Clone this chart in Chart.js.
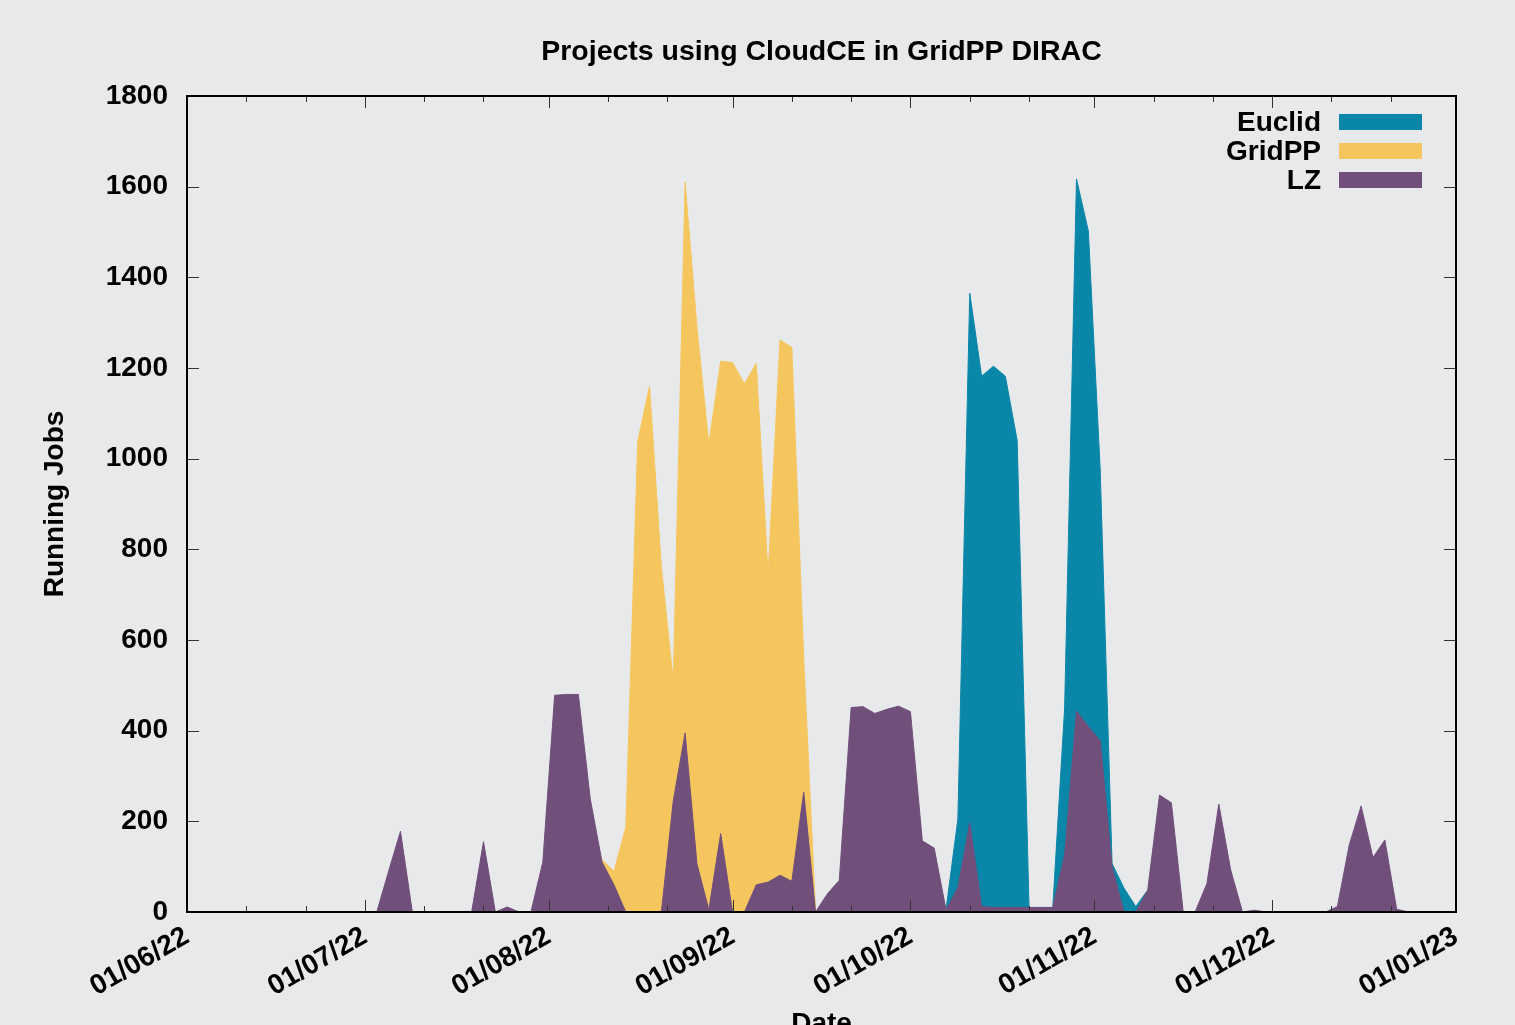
<!DOCTYPE html>
<html>
<head>
<meta charset="utf-8">
<title>Projects using CloudCE in GridPP DIRAC</title>
<script src="https://cdn.jsdelivr.net/npm/chart.js@4.4.1/dist/chart.umd.min.js"></script>
<style>
  html, body { margin: 0; padding: 0; background: #e8e9eb; overflow: hidden; }
  #chart { display: block; }
</style>
</head>
<body>
<canvas id="chart" width="1515" height="1050"></canvas>
<script>
// Days since 01/06/22, one sample every two days
const days = [
  0, 2, 4, 6, 8, 10, 12, 14, 16, 18,
  20, 22, 24, 26, 28, 30, 32, 34, 36, 38,
  40, 42, 44, 46, 48, 50, 52, 54, 56, 58,
  60, 62, 64, 66, 68, 70, 72, 74, 76, 78,
  80, 82, 84, 86, 88, 90, 92, 94, 96, 98,
  100, 102, 104, 106, 108, 110, 112, 114, 116, 118,
  120, 122, 124, 126, 128, 130, 132, 134, 136, 138,
  140, 142, 144, 146, 148, 150, 152, 154, 156, 158,
  160, 162, 164, 166, 168, 170, 172, 174, 176, 178,
  180, 182, 184, 186, 188, 190, 192, 194, 196, 198,
  200, 202, 204, 206, 208, 210, 212, 214
];

// Running jobs per project
const euclidJobs = [
  0, 0, 0, 0, 0, 0, 0, 0, 0, 0,
  0, 0, 0, 0, 0, 0, 0, 0, 0, 0,
  0, 0, 0, 0, 0, 0, 0, 0, 0, 0,
  0, 0, 0, 0, 0, 0, 0, 0, 0, 0,
  0, 0, 0, 0, 0, 0, 0, 0, 0, 0,
  0, 0, 0, 0, 0, 0, 0, 0, 0, 0,
  0, 0, 0, 0, 5, 205, 1365, 1182, 1204, 1182,
  1040, 10, 10, 10, 450, 1617, 1502, 975, 107, 53,
  12, 48, 0, 0, 0, 0, 0, 0, 0, 0,
  0, 0, 0, 0, 0, 0, 0, 0, 0, 0,
  0, 0, 0, 0, 0, 0, 0, 0
];
const gridppJobs = [
  0, 0, 0, 0, 0, 0, 0, 0, 0, 0,
  0, 0, 0, 0, 0, 0, 0, 0, 0, 0,
  0, 0, 0, 0, 0, 0, 0, 0, 0, 0,
  0, 0, 0, 0, 100, 115, 90, 187, 1037, 1160,
  760, 510, 1610, 1290, 1032, 1215, 1212, 1165, 1210, 745,
  1262, 1245, 560, 0, 0, 0, 0, 0, 0, 0,
  0, 0, 0, 0, 0, 0, 0, 0, 0, 0,
  0, 0, 0, 0, 0, 0, 0, 0, 0, 0,
  0, 0, 0, 0, 0, 0, 0, 0, 0, 0,
  0, 0, 0, 0, 0, 0, 0, 0, 0, 0,
  0, 0, 0, 0, 0, 0, 0, 0
];
const lzJobs = [
  0, 0, 0, 0, 0, 0, 0, 0, 0, 0,
  0, 0, 0, 0, 0, 0, 0, 90, 178, 0,
  0, 0, 0, 0, 0, 155, 0, 11, 0, 0,
  110, 478, 480, 480, 250, 110, 60, 0, 0, 0,
  0, 245, 395, 106, 5, 173, 0, 0, 60, 66,
  81, 68, 265, 0, 40, 70, 451, 453, 438, 447,
  454, 442, 157, 141, 5, 53, 197, 12, 10, 10,
  10, 10, 10, 10, 126, 443, 409, 378, 100, 0,
  0, 48, 258, 241, 0, 0, 63, 238, 93, 0,
  4, 0, 0, 0, 0, 0, 0, 12, 148, 234,
  120, 159, 6, 0, 0, 0, 0, 0
];

// Axis ticks
const monthDays = [0, 30, 61, 92, 122, 153, 183, 214];
const monthLabels = ['01/06/22', '01/07/22', '01/08/22', '01/09/22', '01/10/22', '01/11/22', '01/12/22', '01/01/23'];
const minorDays = [10, 20, 40, 50, 71, 81, 102, 112, 132, 142, 163, 173, 193, 203];
const yTicks = [0, 200, 400, 600, 800, 1000, 1200, 1400, 1600, 1800];

const titleText = 'Projects using CloudCE in GridPP DIRAC';
const FONT = '"Liberation Sans", Arial, Helvetica, sans-serif';
const font = { family: FONT, size: 28, weight: 'bold' };

const series = [
  { label: 'Euclid', values: euclidJobs, color: '#0a86a8', order: 3 },
  { label: 'GridPP', values: gridppJobs, color: '#f5c65e', order: 2 },
  { label: 'LZ', values: lzJobs, color: '#714f7b', order: 1 }
];

// gnuplot style frame, inward ticks, title and key
const frame = {
  id: 'frame',
  afterDatasetsDraw(chart) {
    const { ctx, chartArea: a, scales: { x, y } } = chart;
    ctx.save();
    ctx.strokeStyle = '#333';
    ctx.lineWidth = 1;
    ctx.beginPath();
    const xTick = (d, len) => {
      const px = Math.round(x.getPixelForValue(d)) + 0.5;
      ctx.moveTo(px, a.bottom); ctx.lineTo(px, a.bottom - len);
      ctx.moveTo(px, a.top); ctx.lineTo(px, a.top + len);
    };
    monthDays.forEach(d => xTick(d, 12));
    minorDays.forEach(d => xTick(d, 6));
    yTicks.forEach(v => {
      const py = Math.round(y.getPixelForValue(v)) + 0.5;
      ctx.moveTo(a.left, py); ctx.lineTo(a.left + 12, py);
      ctx.moveTo(a.right, py); ctx.lineTo(a.right - 12, py);
    });
    ctx.stroke();

    ctx.strokeStyle = '#000';
    ctx.lineWidth = 2;
    ctx.strokeRect(a.left, a.top, a.right - a.left, a.bottom - a.top);

    ctx.fillStyle = '#000';
    ctx.font = 'bold 28.5px ' + FONT;
    ctx.textAlign = 'center';
    ctx.textBaseline = 'middle';
    ctx.fillText(titleText, (a.left + a.right) / 2, 52);

    // key
    ctx.font = 'bold 28px ' + FONT;
    ctx.textAlign = 'right';
    series.forEach((s, i) => {
      const cy = 122 + i * 29;
      ctx.fillStyle = '#000';
      ctx.fillText(s.label, 1321, cy + 1);
      ctx.fillStyle = s.color;
      ctx.fillRect(1339, cy - 8, 83, 16);
    });
    ctx.restore();
  }
};

new Chart(document.getElementById('chart'), {
  type: 'line',
  data: {
    datasets: series.map(s => ({
      label: s.label,
      data: days.map((d, i) => ({ x: d, y: s.values[i] })),
      backgroundColor: s.color,
      borderColor: s.color,
      borderWidth: 1,
      fill: 'origin',
      order: s.order,
      pointRadius: 0,
      tension: 0
    }))
  },
  options: {
    responsive: false,
    animation: false,
    layout: { padding: { top: 96, right: 59, bottom: 0, left: 0 } },
    plugins: {
      legend: { display: false },
      tooltip: { enabled: false },
      title: { display: false }
    },
    scales: {
      x: {
        type: 'linear',
        min: 0,
        max: 214,
        grid: { display: false, drawTicks: false },
        border: { display: false },
        afterBuildTicks: s => { s.ticks = monthDays.map(v => ({ value: v })); },
        afterFit: s => { s.height = 138; },
        ticks: {
          autoSkip: false,
          minRotation: 30,
          maxRotation: 30,
          padding: 8,
          color: '#000',
          font,
          callback: v => monthLabels[monthDays.indexOf(v)]
        },
        title: { display: true, text: 'Date', color: '#000', font, padding: { top: 0, bottom: 9 } }
      },
      y: {
        min: 0,
        max: 1800,
        grid: { display: false, drawTicks: false },
        border: { display: false },
        afterBuildTicks: s => { s.ticks = yTicks.map(v => ({ value: v })); },
        afterFit: s => { s.width = 187; },
        ticks: { padding: 19, color: '#000', font, callback: v => String(v) },
        title: { display: true, text: 'Running Jobs', color: '#000', font, padding: { top: 38, bottom: 0 } }
      }
    }
  },
  plugins: [frame]
});
</script>
</body>
</html>
